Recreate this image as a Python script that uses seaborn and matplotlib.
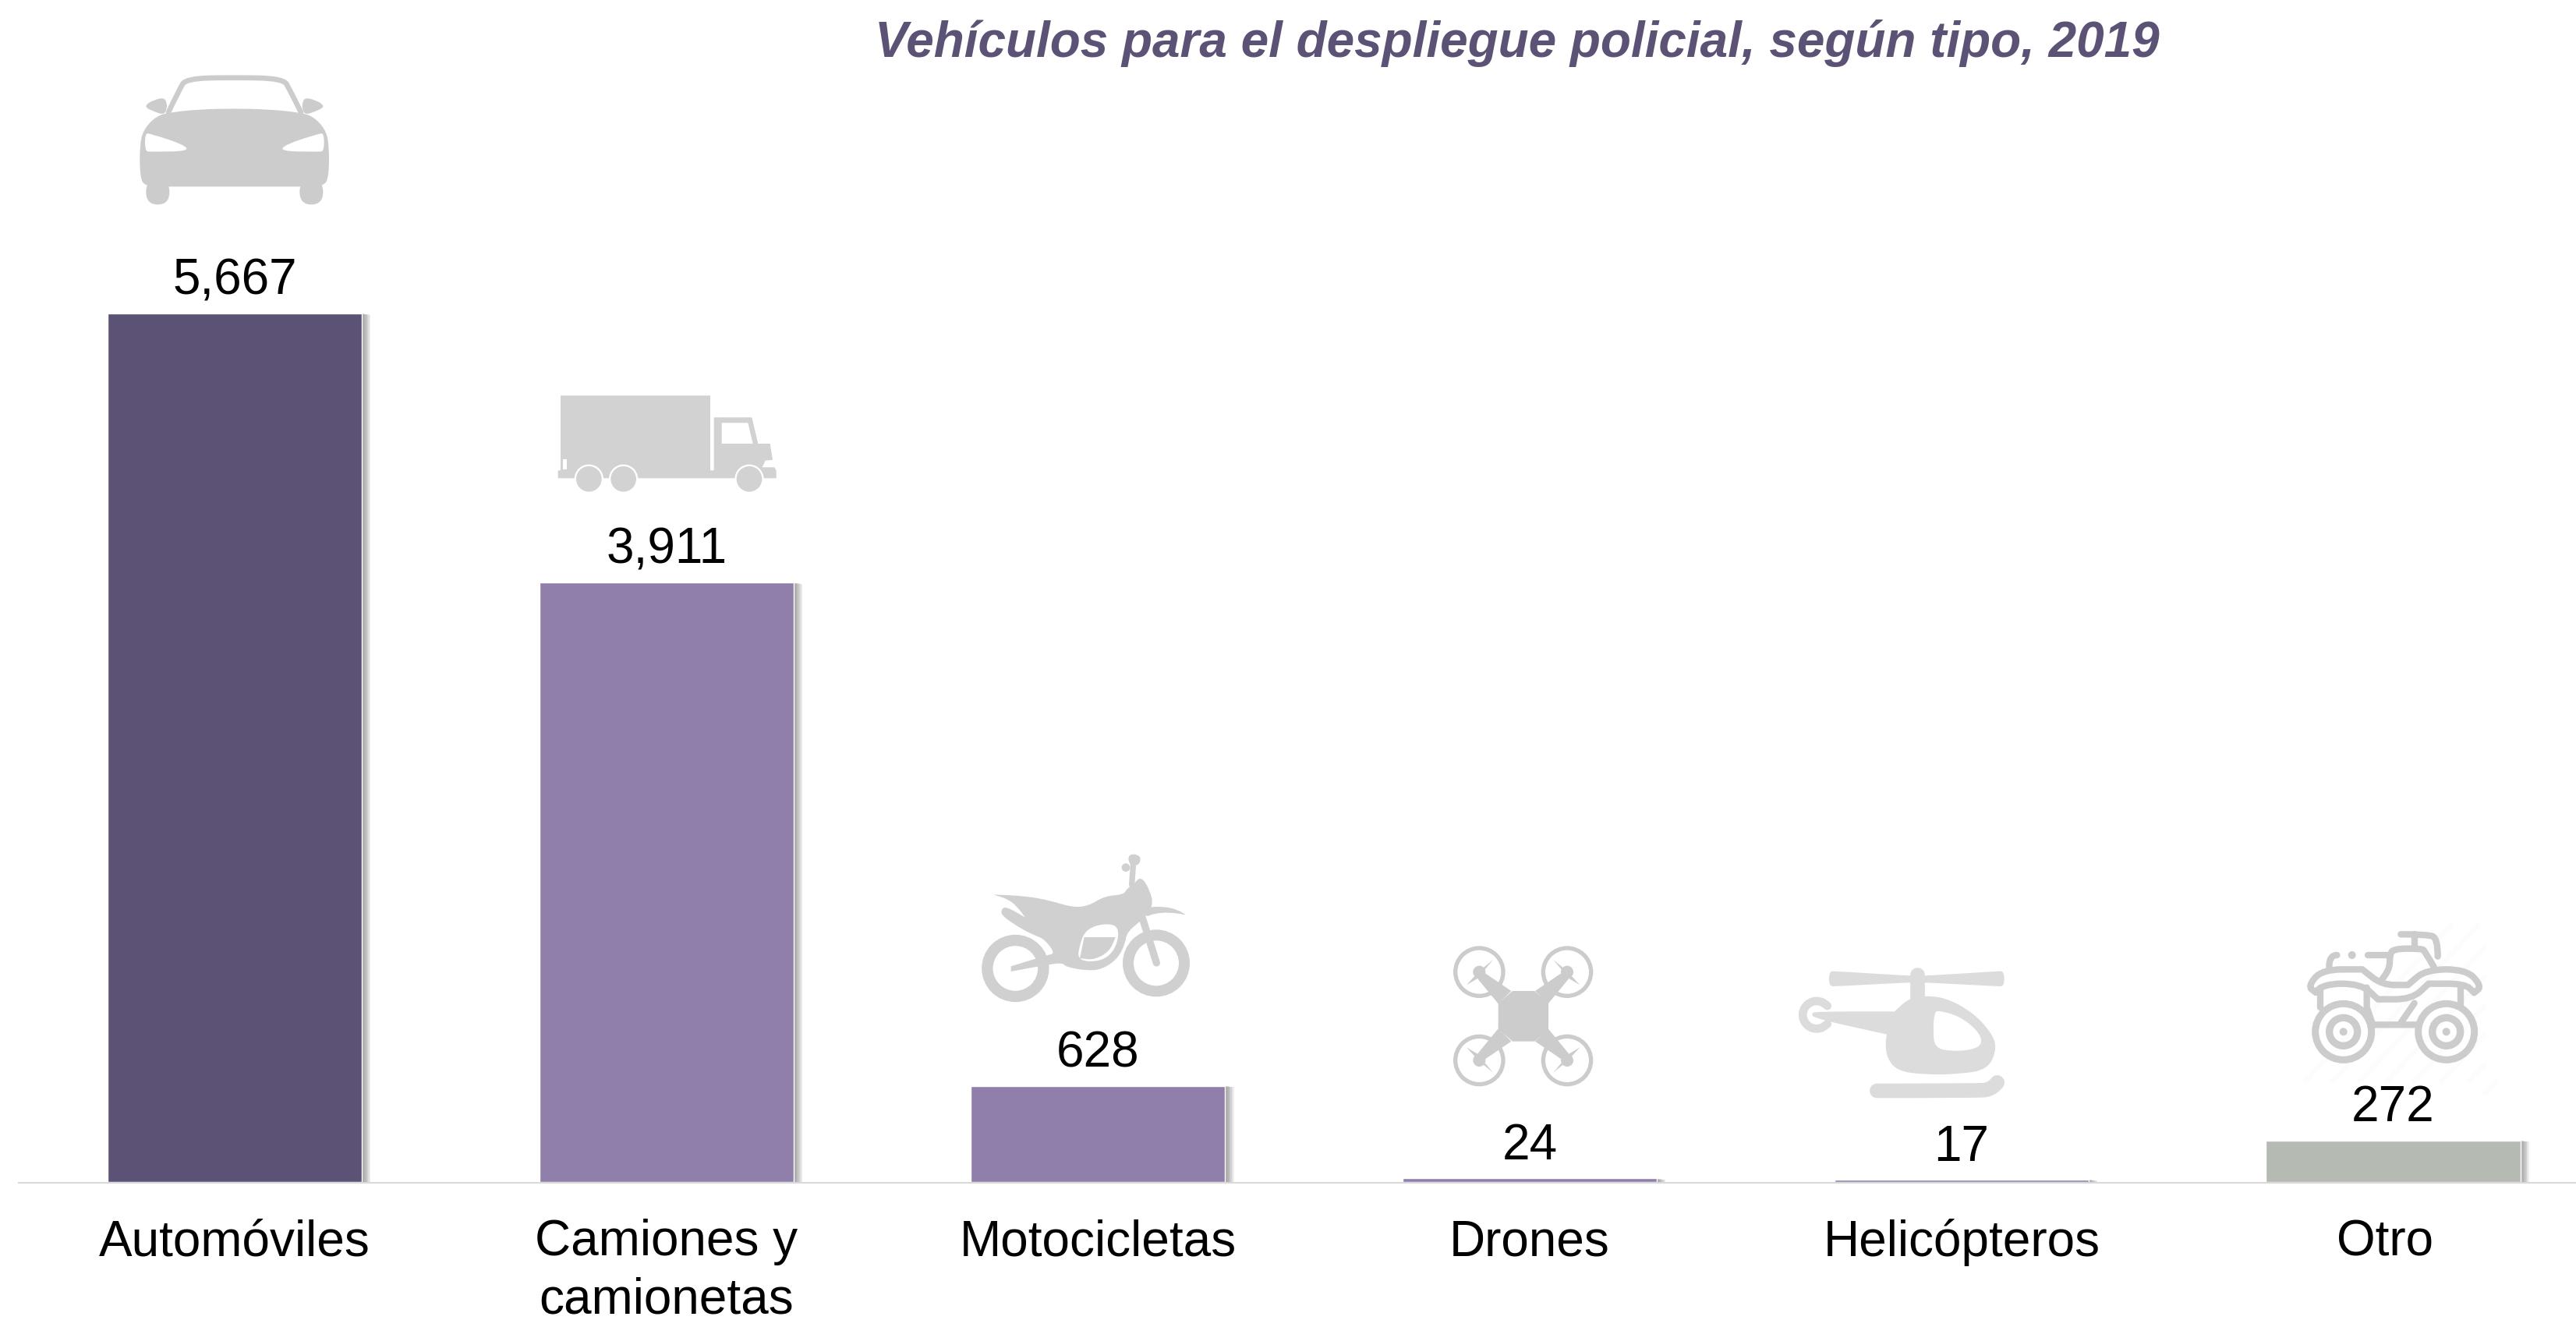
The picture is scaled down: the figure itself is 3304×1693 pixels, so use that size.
import numpy as np
import pandas as pd
import matplotlib
matplotlib.use("Agg")
import matplotlib.pyplot as plt
import matplotlib.patheffects as pe
from matplotlib.patches import Circle, PathPatch, Polygon
from matplotlib.path import Path
from matplotlib.transforms import ScaledTranslation
import seaborn as sns

# -------------------
# Data
# -------------------
categories = ["Automóviles", "Camiones y\ncamionetas", "Motocicletas", "Drones", "Helicópteros", "Otro"]
values = [5667, 3911, 628, 24, 17, 272]
bar_colors = ["#5B5276", "#917FAB", "#917FAB", "#917FAB", "#917FAB", "#B5BAB3"]
title = "Vehículos para el despliegue policial, según tipo, 2019"

sns.set_theme(style="white")
plt.rcParams["font.family"] = ["Liberation Sans", "DejaVu Sans"]

W, H = 3304, 1693
BASE_Y = 1516
PX_PER_UNIT = 0.1966

fig = plt.figure(figsize=(W / 100, H / 100), dpi=100, facecolor="white")

# -------------------
# Bars
# -------------------
ax = fig.add_axes([24 / W, (H - BASE_Y) / H, 1 - 24 / W, BASE_Y / H])
df = pd.DataFrame({"tipo": categories, "n": values})
sns.barplot(data=df, x="tipo", y="n", hue="tipo", palette=bar_colors, width=0.589,
            legend=False, saturation=1, ax=ax)
ax.set_xlim(-0.5003, 5.4235)
ax.set_ylim(0, BASE_Y / PX_PER_UNIT)
ax.set_xlabel("")
ax.set_ylabel("")
ax.set_yticks([])
ax.patch.set_alpha(0)
sns.despine(ax=ax, left=True)
ax.spines["bottom"].set_color("#D9D9D9")
ax.spines["bottom"].set_linewidth(1.5)
# set_position resets the ticks, so the label styling comes after it
ax.spines["bottom"].set_position(("outward", 1))
ax.set_xticks(range(len(categories)), labels=categories)
ax.tick_params(axis="x", length=0, labelsize=46, pad=33, labelcolor="black")
for t in ax.get_xticklabels():
    t.set_linespacing(1.31)
# "Otro" sits a little left of its bar
otro = ax.get_xticklabels()[-1]
otro.set_transform(otro.get_transform() + ScaledTranslation(-0.10, 0, fig.dpi_scale_trans))

# soft shadow, stacked from the outside in
shadow = [pe.SimplePatchShadow(offset=(k * 1.0, -k * 0.15), shadow_rgbFace="#777777", alpha=0.12)
          for k in range(8, 0, -1)] + [pe.Normal()]
for cont in ax.containers:
    ax.bar_label(cont, labels=[f"{v:,.0f}" for v in cont.datavalues], padding=8,
                 fontsize=46, color="black")
    for bar in cont:
        bar.set_path_effects(shadow)
        bar.set_clip_on(False)

# -------------------
# Overlay in pixels for the title and the icons
# -------------------
ov = fig.add_axes([0, 0, 1, 1], zorder=5)
ov.set_xlim(0, W)
ov.set_ylim(H, 0)
ov.axis("off")
ov.text(1946, 73, title, fontsize=46, fontweight="bold", fontstyle="italic",
        color="#5B5276", ha="center", va="baseline")


def to_px(pts, origin):
    return [(origin[0] + x / 3, origin[1] + y / 3) for x, y in pts]


def smooth_path(pts, closed=True):
    # quadratic spline through the midpoints, rounds every corner
    pts = np.array(pts, float)
    if closed:
        mids = (pts + np.roll(pts, -1, axis=0)) / 2
        verts = [mids[-1]]
        codes = [Path.MOVETO]
        for p, m in zip(pts, mids):
            verts += [p, m]
            codes += [Path.CURVE3, Path.CURVE3]
    else:
        verts = [pts[0]]
        codes = [Path.MOVETO]
        for i in range(1, len(pts) - 1):
            m = (pts[i] + pts[i + 1]) / 2 if i < len(pts) - 2 else pts[i + 1]
            verts += [pts[i], m]
            codes += [Path.CURVE3, Path.CURVE3]
    return Path(verts, codes)


def blob(pts, origin, color):
    ov.add_patch(PathPatch(smooth_path(to_px(pts, origin)), fc=color, ec="none"))


def poly(pts, origin, color):
    ov.add_patch(Polygon(to_px(pts, origin), closed=True, fc=color, ec="none"))


def stroke(pts, origin, color, w, curved=True):
    px = to_px(pts, origin)
    if curved and len(pts) > 2:
        ov.add_patch(PathPatch(smooth_path(px, closed=False), fc="none", ec=color,
                               lw=w * 0.24, capstyle="round", joinstyle="round"))
    else:
        ov.plot(*zip(*px), color=color, lw=w * 0.24, solid_capstyle="round",
                solid_joinstyle="round", zorder=1)


def disc(c, r, origin, color):
    ov.add_patch(Circle(to_px([c], origin)[0], r / 3, fc=color, ec="none"))


def ring(c, r, w, origin, color):
    ov.add_patch(Circle(to_px([c], origin)[0], r / 3, fc="none", ec=color, lw=w * 0.24))


def mirror_x(pts, cx):
    return [(2 * cx - x, y) for x, y in pts]


def mirror_y(pts, cy):
    return [(x, 2 * cy - y) for x, y in pts]


# car
o, c = (100, 50), "#CCCCCC"
body = [(352, 282), (480, 270), (600, 268), (720, 270), (852, 282), (905, 298), (950, 345),
        (966, 400), (966, 530), (945, 568), (850, 568), (350, 568), (258, 568), (238, 530),
        (238, 400), (255, 345), (300, 298)]
blob(body, o, c)
wheel = [(262, 540), (352, 540), (352, 637), (262, 637)]
blob(wheel, o, c)
blob(mirror_x(wheel, 602.5), o, c)
mirror = [(262, 252), (290, 236), (330, 225), (342, 245), (342, 270), (330, 292), (290, 278), (262, 265)]
blob(mirror, o, c)
blob(mirror_x(mirror, 602.5), o, c)
stroke([(348, 282), (390, 195), (415, 152), (600, 148), (790, 152), (815, 195), (858, 282)], o, c, 20)
lamp = [(258, 362), (280, 365), (405, 405), (428, 432), (280, 434), (258, 432)]
blob(lamp, o, "white")
blob(mirror_x(lamp, 602.5), o, "white")

# truck
o, c = (660, 460), "#D2D2D2"
poly([(767, 226), (913, 226), (937, 327), (983, 327), (993, 390), (965, 392), (953, 418), (1000, 418),
      (1007, 430), (1007, 460), (167, 460), (167, 430), (177, 430), (177, 142), (753, 142), (753, 430),
      (767, 430)], o, c)
poly([(797, 247), (898, 247), (917, 327), (797, 327)], o, "white")
poly([(187, 388), (202, 388), (202, 425), (187, 425)], o, "white")
for cx in [286, 419, 903]:
    disc((cx, 463), 56, o, "white")
    disc((cx, 463), 49, o, c)

# motorcycle
o, c = (1200, 1060), "#D0D0D0"
ring((307, 546), 108, 43, o, c)
ring((849, 526), 108, 42, o, c)
blob([(222, 262), (222, 262), (350, 268), (440, 285), (530, 312), (590, 305), (650, 268), (725, 262),
      (735, 240), (760, 225), (790, 190), (825, 245), (838, 305), (800, 355), (780, 370), (735, 410),
      (730, 450), (700, 510), (640, 550), (580, 555), (500, 540), (490, 525), (440, 530), (290, 558),
      (290, 558), (290, 538), (290, 538), (430, 495), (460, 488), (420, 435), (385, 420), (340, 400),
      (255, 345), (252, 320), (270, 307), (345, 350), (345, 350), (315, 310), (280, 280)], o, c)
blob([(810, 310), (880, 308), (930, 320), (963, 340), (963, 340), (900, 330), (840, 335), (805, 350)], o, c)
stroke([(795, 350), (850, 525)], o, c, 28)
stroke([(762, 120), (755, 225)], o, c, 22)
disc((732, 158), 16, o, c)
blob([(740, 105), (790, 110), (785, 150), (745, 150)], o, c)
blob([(580, 395), (650, 372), (708, 385), (695, 470), (640, 520), (545, 518), (555, 450)], o, "white")
blob([(572, 426), (572, 426), (692, 426), (692, 426), (670, 480), (610, 514), (555, 507), (555, 507)], o, c)

# drone
o, c = (1820, 1180), "#CCCCCC"
cx, cy = 401, 370
poly([(360, 273), (445, 273), (498, 320), (498, 420), (445, 467), (360, 467), (305, 420), (305, 320)], o, c)
arm = [(255, 205), (355, 273), (305, 322), (225, 225)]
blade = [(183, 250), (215, 215), (240, 190), (285, 153), (250, 195), (225, 225)]
for fx in [False, True]:
    for fy in [False, True]:
        a, b, hub = arm, blade, [(232, 200)]
        if fx:
            a, b, hub = mirror_x(a, cx), mirror_x(b, cx), mirror_x(hub, cx)
        if fy:
            a, b, hub = mirror_y(a, cy), mirror_y(b, cy), mirror_y(hub, cy)
        ring(hub[0], 92, 16, o, c)
        poly(a, o, c)
        poly(b, o, c)
        disc(hub[0], 24, o, c)

# helicopter
o, c = (2280, 1210), "#DCDCDC"
blob([(225, 107), (510, 125), (565, 125), (845, 107), (872, 107), (872, 165), (845, 165), (565, 150),
      (510, 150), (225, 165), (198, 165), (198, 107)], o, c)
stroke([(536, 120), (536, 220)], o, c, 56)
blob([(450, 262), (500, 215), (560, 200), (650, 210), (750, 265), (820, 340), (845, 400), (810, 485),
      (700, 503), (560, 505), (460, 490), (420, 440), (415, 380), (420, 350), (420, 350), (140, 288),
      (130, 270), (145, 262), (450, 262)], o, c)
blob([(620, 258), (700, 280), (770, 335), (790, 385), (750, 410), (660, 415), (605, 400), (598, 340), (603, 265)], o, "white")
ang = np.radians(np.arange(40, 321, 20))
stroke([(150 + 54 * np.cos(a), 275 + 54 * np.sin(a)) for a in ang], o, c, 32)
stroke([(382, 567), (760, 567), (825, 562), (845, 535)], o, c, 56)

# quad bike
o, c = (2910, 1170), "#CCCCCC"
for k in range(8):
    x0 = 140 + k * 105
    x1 = min(x0 + 560, 830)
    stroke([(x0, 650), (x1, 650 - (x1 - x0) * 1.07)], o, "#FCFCFC", 18)
for cx in [287, 683]:
    ring((cx, 460), 108, 27, o, c)
    ring((cx, 460), 54, 28, o, c)
    disc((cx, 460), 15, o, c)
w = 25
stroke([(180, 308), (180, 308), (150, 285), (205, 220), (360, 220), (360, 220), (435, 280), (535, 280),
        (535, 280), (605, 220), (760, 220), (820, 285), (790, 310), (790, 310), (755, 275), (615, 275),
        (615, 275), (550, 335), (420, 335), (420, 335), (355, 275), (205, 275), (180, 308)], o, c, w)
stroke([(197, 290), (197, 365)], o, c, w, curved=False)
stroke([(377, 290), (377, 365), (400, 433), (570, 433)], o, c, w, curved=False)
stroke([(505, 430), (560, 350)], o, c, w, curved=False)
stroke([(737, 290), (737, 360)], o, c, w, curved=False)
stroke([(508, 85), (610, 85), (650, 100), (650, 170)], o, c, w)
stroke([(560, 85), (560, 140)], o, c, w, curved=False)
stroke([(430, 265), (465, 225), (465, 165), (480, 140), (590, 140), (600, 150), (635, 210)], o, c, w)
stroke([(380, 165), (465, 165)], o, c, w, curved=False)
stroke([(232, 210), (232, 165), (262, 165)], o, c, w)
disc((320, 165), 15, o, c)

fig.savefig("out.png", dpi=100, facecolor="white")
